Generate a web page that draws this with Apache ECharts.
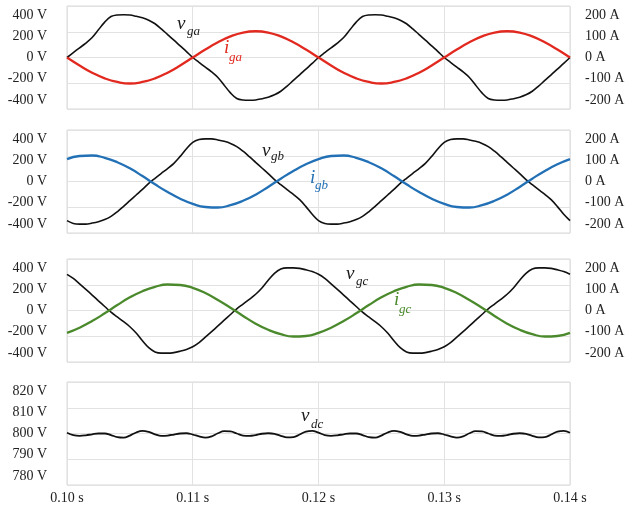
<!DOCTYPE html>
<html>
<head>
<meta charset="utf-8">
<script src="https://cdn.jsdelivr.net/npm/echarts@6/dist/echarts.min.js"></script>
<style>
  html, body { margin: 0; padding: 0; background: #fff; }
  #chart { width: 628px; height: 510px; }
</style>
</head>
<body>
<div id="chart"></div>
<script>
// Grid voltages (V), sampled every 0.5 ms from 0.100 s to 0.140 s
const vga = [0, 38, 75, 112, 155, 215, 275, 318, 330, 332, 330, 320, 308, 290, 262, 222, 178, 135, 90, 46, 0,
  -38, -75, -112, -155, -215, -275, -318, -330, -332, -330, -320, -308, -290, -262, -222, -178, -135, -90, -46, 0,
  38, 75, 112, 155, 215, 275, 318, 330, 332, 330, 320, 308, 290, 262, 222, 178, 135, 90, 46, 0,
  -38, -75, -112, -155, -215, -275, -318, -330, -332, -330, -320, -308, -290, -262, -222, -178, -135, -90, -46, 0];
const vgb = [-304, -326, -331, -331, -323, -312, -296, -271, -235, -193, -149, -105, -61, -15, 25, 63, 100, 141, 195, 255, 304,
  326, 331, 331, 323, 312, 296, 271, 235, 193, 149, 105, 61, 15, -25, -63, -100, -141, -195, -255, -304,
  -326, -331, -331, -323, -312, -296, -271, -235, -193, -149, -105, -61, -15, 25, 63, 100, 141, 195, 255, 304,
  326, 331, 331, 323, 312, 296, 271, 235, 193, 149, 105, 61, 15, -25, -63, -100, -141, -195, -255, -304];
const vgc = [281, 249, 207, 164, 120, 75, 31, -13, -50, -87, -126, -175, -235, -289, -322, -331, -331, -327, -316, -302, -281,
  -249, -207, -164, -120, -75, -31, 13, 50, 87, 126, 175, 235, 289, 322, 331, 331, 327, 316, 302, 281,
  249, 207, 164, 120, 75, 31, -13, -50, -87, -126, -175, -235, -289, -322, -331, -331, -327, -316, -302, -281,
  -249, -207, -164, -120, -75, -31, 13, 50, 87, 126, 175, 235, 289, 322, 331, 331, 327, 316, 302, 281];

// DC-link voltage (V), sampled every 0.5 ms
const vdc = [800.3, 799.4, 799.1, 799.3, 799.7, 800.0, 800.0, 799.4, 798.6, 798.4, 799.2, 800.4, 801.0, 800.6, 799.7, 799.1,
  799.2, 799.6, 800.0, 800.1, 799.6, 798.9, 798.4, 798.9, 800.1, 800.9, 800.8, 800.0, 799.2, 799.1, 799.4, 799.9, 800.1,
  799.9, 799.1, 798.5, 798.6, 799.6, 800.7, 801.0, 800.3,
  799.4, 799.1, 799.3, 799.7, 800.0, 800.0, 799.4, 798.6, 798.4, 799.2, 800.4, 801.0, 800.6, 799.7, 799.1,
  799.2, 799.6, 800.0, 800.1, 799.6, 798.9, 798.4, 798.9, 800.1, 800.9, 800.8, 800.0, 799.2, 799.1, 799.4, 799.9, 800.1,
  799.9, 799.1, 798.5, 798.6, 799.6, 800.7, 801.0, 800.3];

// Grid currents (A), sampled every 1 ms
const iga = [0, -31, -59, -81, -95, -101, -95, -81, -59, -31, 0, 31, 59, 82, 97, 102, 97, 82, 59, 31, 0,
  -31, -59, -81, -95, -101, -95, -81, -59, -31, 0, 31, 59, 82, 97, 102, 97, 82, 59, 31, 0];
const igb = [87, 99, 101, 92, 75, 51, 21, -11, -41, -67, -87, -99, -101, -92, -75, -51, -21, 11, 41, 67, 87,
  99, 101, 92, 75, 51, 21, -11, -41, -67, -87, -99, -101, -92, -75, -51, -21, 11, 41, 67, 87];
const igc = [-87, -67, -41, -11, 21, 51, 75, 92, 101, 99, 88, 68, 41, 11, -21, -51, -75, -92, -101, -99, -87,
  -67, -41, -11, 21, 51, 75, 92, 101, 99, 88, 68, 41, 11, -21, -51, -75, -92, -101, -99, -87];

// Tick labels
const timeTicks = [0.10, 0.11, 0.12, 0.13, 0.14];
const voltTicks = [-400, -200, 0, 200, 400];
const ampTicks = [-200, -100, 0, 100, 200];
const dcTicks = [780, 790, 800, 810, 820];

// Sample instants
const tFine = vga.map((_, i) => +(0.1 + i * 0.0005).toFixed(4));
const tCoarse = iga.map((_, i) => +(0.1 + i * 0.001).toFixed(3));
const pairs = (t, v) => v.map((y, i) => [t[i], y]);

const FONT = 'Liberation Serif';
const TXT = '#222';
const GRID_LINE = '#e2e2e2';
const panelTops = [6, 130, 259, 382];
const panelHeight = 103;

const grids = panelTops.map(top => ({
  left: 67, right: 58, top: top, height: panelHeight,
  show: true, borderColor: '#d9d9d9', borderWidth: 1, backgroundColor: 'transparent'
}));

const xAxes = panelTops.map((_, gi) => ({
  type: 'value', gridIndex: gi, min: 0.1, max: 0.14, interval: 0.01,
  axisLine: { show: false }, axisTick: { show: false },
  splitLine: { show: true, lineStyle: { color: GRID_LINE, width: 1 } },
  axisLabel: {
    show: gi === 3, margin: 6, fontFamily: FONT, fontSize: 14, color: TXT,
    customValues: timeTicks,
    formatter: v => v.toFixed(2) + ' s'
  }
}));

const yAxes = [];
function dataAxis(gi, pos, min, max, interval, grid) {
  yAxes.push({
    type: 'value', gridIndex: gi, position: pos, min, max, interval,
    axisLine: { show: false }, axisTick: { show: false }, axisLabel: { show: false },
    splitLine: { show: grid, lineStyle: { color: GRID_LINE, width: 1 } }
  });
  return yAxes.length - 1;
}
function labelAxis(gi, pos, min, max, ticks, unit, margin) {
  yAxes.push({
    type: 'value', gridIndex: gi, position: pos, min, max,
    axisLine: { show: false }, axisTick: { show: false }, splitLine: { show: false },
    axisLabel: {
      show: true, customValues: ticks, margin: margin,
      fontFamily: FONT, fontSize: 14, color: TXT,
      formatter: v => v + ' ' + unit
    }
  });
}

const series = [];
const VOLT_COLOR = '#111';
const phaseCurrentColors = ['#e2291f', '#2270b5', '#4b8a2c'];
const phaseVolts = [vga, vgb, vgc];
const phaseAmps = [iga, igb, igc];

for (let p = 0; p < 3; p++) {
  const vAxis = dataAxis(p, 'left', -400, 400, 200, true);
  labelAxis(p, 'left', -484, 484, voltTicks, 'V', 20);
  const aAxis = dataAxis(p, 'right', -200, 200, 100, false);
  labelAxis(p, 'right', -242, 242, ampTicks, 'A', 15);
  series.push({
    type: 'line', xAxisIndex: p, yAxisIndex: vAxis, data: pairs(tFine, phaseVolts[p]),
    showSymbol: false, smooth: 0.35, lineStyle: { color: VOLT_COLOR, width: 1.6 }, z: 2
  });
  series.push({
    type: 'line', xAxisIndex: p, yAxisIndex: aAxis, data: pairs(tCoarse, phaseAmps[p]),
    showSymbol: false, smooth: 0.5, lineStyle: { color: phaseCurrentColors[p], width: 2.3 }, z: 3
  });
}
const dcAxis = dataAxis(3, 'left', 780, 820, 10, true);
labelAxis(3, 'left', 775.8, 824.2, dcTicks, 'V', 20);
series.push({
  type: 'line', xAxisIndex: 3, yAxisIndex: dcAxis, data: pairs(tFine, vdc),
  showSymbol: false, smooth: 0.4, lineStyle: { color: VOLT_COLOR, width: 1.8 }, z: 2
});

// Italic symbol annotations with subscripts
function symbolLabel(letter, sub, color, x, y, sx, sy) {
  return [
    { type: 'text', x: x, y: y, z: 10, style: {
      text: letter, fill: color, font: 'italic 19px "' + FONT + '"', verticalAlign: 'middle' } },
    { type: 'text', x: sx, y: sy, z: 10, style: {
      text: sub, fill: color, font: 'italic 13px "' + FONT + '"', verticalAlign: 'middle' } }
  ];
}
const graphics = [].concat(
  symbolLabel('v', 'ga', '#1a1a1a', 177, 24, 187, 32),
  symbolLabel('i', 'ga', phaseCurrentColors[0], 224, 48, 229, 58),
  symbolLabel('v', 'gb', '#1a1a1a', 262, 151, 271, 157),
  symbolLabel('i', 'gb', phaseCurrentColors[1], 310, 178, 315, 186),
  symbolLabel('v', 'gc', '#1a1a1a', 346, 274, 356, 282),
  symbolLabel('i', 'gc', phaseCurrentColors[2], 394, 300, 399, 310),
  symbolLabel('v', 'dc', '#1a1a1a', 301, 416, 311, 425)
);

const chart = echarts.init(document.getElementById('chart'), null, { renderer: 'canvas' });
chart.setOption({
  animation: false,
  backgroundColor: '#fff',
  grid: grids,
  xAxis: xAxes,
  yAxis: yAxes,
  series: series,
  graphic: graphics
});
</script>
</body>
</html>
